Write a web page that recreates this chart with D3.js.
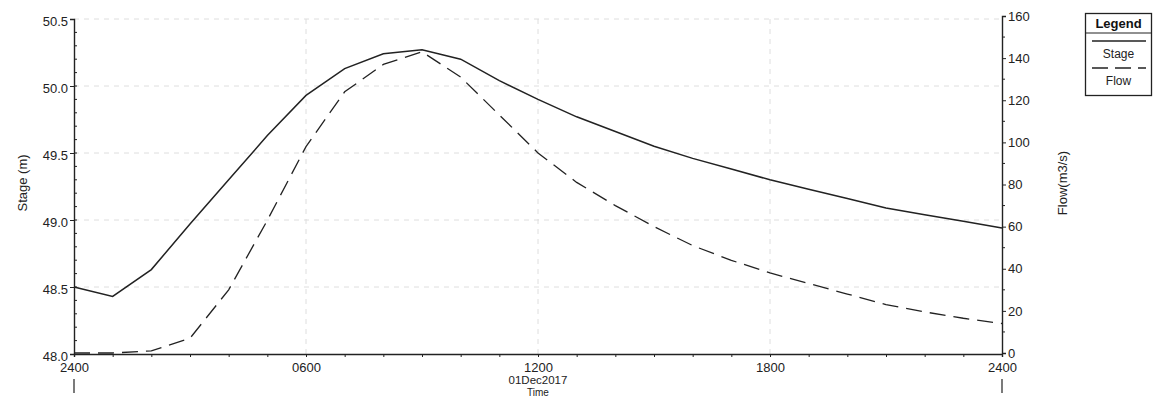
<!DOCTYPE html>
<html><head><meta charset="utf-8">
<script src="https://cdn.jsdelivr.net/npm/d3@7"></script>
<style>
html,body{margin:0;padding:0;background:#fff;}
svg{display:block;font-family:"Liberation Sans",Arial,sans-serif;}
</style></head>
<body>
<svg id="chart" width="1163" height="398"></svg>
<script>
// ---- data (hourly, 30Nov2017 2400 -> 01Dec2017 2400) ----
const hours = [0,1,2,3,4,5,6,7,8,9,10,11,12,13,14,15,16,17,18,19,20,21,22,23,24];
const stage = [48.50,48.43,48.63,48.97,49.30,49.63,49.93,50.13,50.24,50.27,50.20,50.04,49.90,49.77,49.66,49.55,49.46,49.38,49.30,49.23,49.16,49.09,49.04,48.99,48.94];
const flow  = [0,0,1,7,30,63,98,124,137,143,131,113,95,81,70,60,51,44,38,33,28,23,19.5,16.5,14];
const xTickHours = [0,6,12,18,24];
const xTickLabels = ["2400","0600","1200","1800","2400"];
const stageTicks = [48.0,48.5,49.0,49.5,50.0,50.5];
const flowTicks = [0,20,40,60,80,100,120,140,160];
const dateLabel = "01Dec2017";

const svg = d3.select("#chart");
const L = 74, R = 1002, B = 354, T = 19;
const x = d3.scaleLinear().domain([0,24]).range([L,R]);
const yS = d3.scaleLinear().domain([48,50.5]).range([B,T]);
const yF = d3.scaleLinear().domain([0,160]).range([353,16]);
const ink = "#222";
const FONT = "'Liberation Sans',Arial,sans-serif";

// gridlines (faint, dashed)
const grid = svg.append("g").attr("stroke","#dadada").attr("stroke-width",0.9).attr("stroke-dasharray","5,5");
stageTicks.slice(1).forEach(v=>{
  grid.append("line").attr("x1",L).attr("x2",R).attr("y1",yS(v)).attr("y2",yS(v));
});
xTickHours.slice(1,-1).forEach(h=>{
  grid.append("line").attr("x1",x(h)).attr("x2",x(h)).attr("y1",T).attr("y2",B);
});

// left axis
const gL = svg.append("g").attr("transform",`translate(${L},0)`)
  .call(d3.axisLeft(yS).tickValues(stageTicks).tickFormat(d3.format(".1f")).tickSize(4).tickPadding(2));
svg.append("g").selectAll("line").data(d3.range(48.1,50.5,0.1)).join("line")
  .attr("x1",L).attr("x2",L+3).attr("y1",d=>yS(d)).attr("y2",d=>yS(d)).attr("stroke",ink);

// right axis
const gR = svg.append("g").attr("transform",`translate(${R},0)`)
  .call(d3.axisRight(yF).tickValues(flowTicks).tickSize(4).tickPadding(2));
svg.append("g").selectAll("line").data(d3.range(10,160,20)).join("line")
  .attr("x1",R).attr("x2",R+3).attr("y1",d=>yF(d)).attr("y2",d=>yF(d)).attr("stroke",ink);

// bottom axis
const gB = svg.append("g").attr("transform",`translate(0,${B})`)
  .call(d3.axisBottom(x).tickValues(hours).tickFormat((d)=>{const i=xTickHours.indexOf(d);return i>=0?xTickLabels[i]:"";}).tickSize(3).tickPadding(4));

[gL,gR,gB].forEach(g=>{
  g.select(".domain").attr("stroke",ink).attr("stroke-width",1.4);
  g.selectAll(".tick line").attr("stroke",ink);
  g.selectAll("text").attr("fill",ink).style("font-size","13px").style("font-family",FONT);
});
gL.selectAll("text").attr("dy","0.5em");
gR.selectAll("text").attr("dy","0.32em");
gB.selectAll("text").attr("dy",null).attr("y",17.5);

// vertical markers under 2400 labels
[0,24].forEach(h=>{
  svg.append("line").attr("x1",x(h)).attr("x2",x(h)).attr("y1",379).attr("y2",393).attr("stroke",ink).attr("stroke-width",1.2);
});
svg.append("text").attr("x",x(12)).attr("y",384).attr("text-anchor","middle").attr("fill",ink).style("font-size","11.5px").text(dateLabel);
svg.append("text").attr("x",x(12)).attr("y",395.5).attr("text-anchor","middle").attr("fill",ink).style("font-size","10px").text("Time");

// axis titles
svg.append("text").attr("transform","translate(27,183) rotate(-90)").attr("text-anchor","middle").attr("fill",ink).style("font-size","13px").text("Stage (m)");
svg.append("text").attr("transform","translate(1067,183) rotate(-90)").attr("text-anchor","middle").attr("fill",ink).style("font-size","13px").text("Flow(m3/s)");

// series
const lineS = d3.line().x((d,i)=>x(hours[i])).y(d=>yS(d));
const lineF = d3.line().x((d,i)=>x(hours[i])).y(d=>yF(d));
svg.append("path").attr("d",lineS(stage)).attr("fill","none").attr("stroke","#222").attr("stroke-width",1.5);
svg.append("path").attr("d",lineF(flow)).attr("fill","none").attr("stroke","#222").attr("stroke-width",1.3).attr("stroke-dasharray","16,8");

// legend
const lg = svg.append("g");
lg.append("rect").attr("x",1085.5).attr("y",13.5).attr("width",66).attr("height",82).attr("fill","#fff").attr("stroke",ink).attr("stroke-width",1.3);
lg.append("text").attr("x",1118.5).attr("y",28).attr("text-anchor","middle").attr("fill","#111").style("font-size","13px").style("font-weight","bold").text("Legend");
lg.append("line").attr("x1",1085.5).attr("x2",1151.5).attr("y1",33).attr("y2",33).attr("stroke",ink).attr("stroke-width",1.2);
lg.append("line").attr("x1",1092).attr("x2",1146).attr("y1",41).attr("y2",41).attr("stroke","#222").attr("stroke-width",1.5);
lg.append("text").attr("x",1118.5).attr("y",58).attr("text-anchor","middle").attr("fill",ink).style("font-size","12px").text("Stage");
lg.append("line").attr("x1",1092).attr("x2",1146).attr("y1",68).attr("y2",68).attr("stroke","#222").attr("stroke-width",1.4).attr("stroke-dasharray","16,7");
lg.append("text").attr("x",1118.5).attr("y",85).attr("text-anchor","middle").attr("fill",ink).style("font-size","12px").text("Flow");
</script>
</body></html>
